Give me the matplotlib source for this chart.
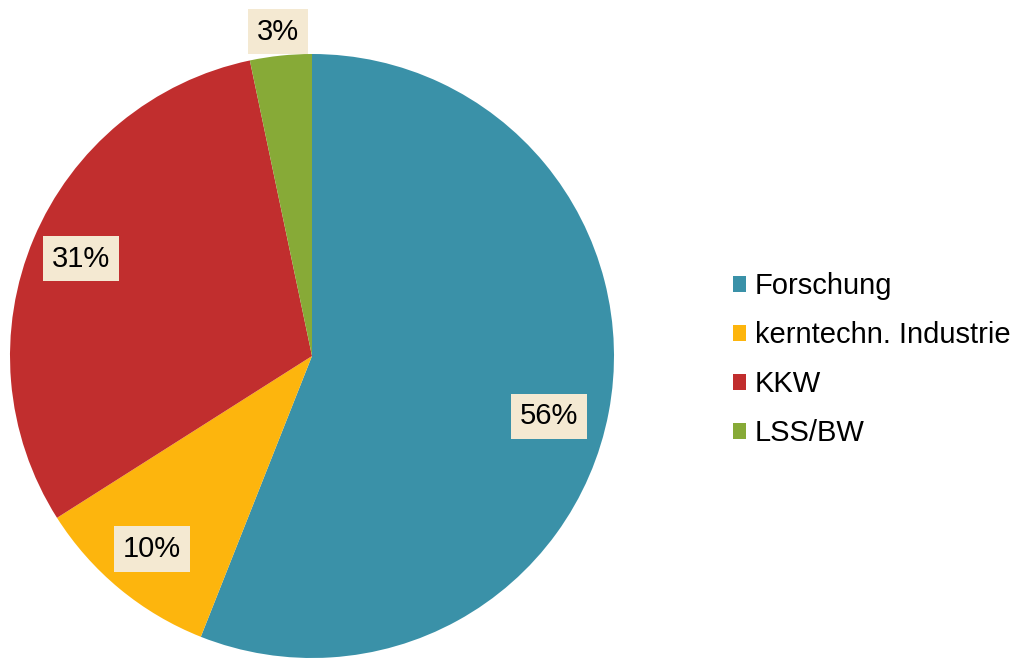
import numpy as np
import matplotlib
matplotlib.use("Agg")
import matplotlib.pyplot as plt
from matplotlib.patches import Patch

plt.rcParams['font.family'] = ['Liberation Sans', 'DejaVu Sans']

categories = ["Forschung", "kerntechn. Industrie", "KKW", "LSS/BW"]
shares = [56.0, 10.0, 30.7, 3.3]
pct_labels = ["56%", "10%", "31%", "3%"]
colors = ["#3a91a8", "#fdb50d", "#c12e2e", "#87aa37"]
label_dist = [0.81, 0.83, 0.83, 1.08]

W, H = 1018, 659
fig = plt.figure(figsize=(W / 100, H / 100), dpi=100)
cx, cy, r = 312, 356, 302
ax = fig.add_axes([(cx - r) / W, (H - cy - r) / H, 2 * r / W, 2 * r / H])

wedges, _ = ax.pie(shares, colors=colors, startangle=90, counterclock=False,
                   radius=1.0, wedgeprops=dict(linewidth=0))
ax.set_xlim(-1, 1)
ax.set_ylim(-1, 1)
ax.set_aspect("equal")
ax.axis("off")

box = dict(boxstyle="square,pad=0.3", facecolor="#f4e9d2",
           edgecolor="none")
for i, (w, lab, d) in enumerate(zip(wedges, pct_labels, label_dist)):
    mid = (w.theta1 + w.theta2) / 2
    if i == 0:
        mid -= 3.5  # Excel pushes this one a bit lower
    mid = np.deg2rad(mid)
    ax.text(d * np.cos(mid), d * np.sin(mid), lab, ha="center", va="center",
            fontsize=21, color="black", bbox=box, clip_on=False)

handles = [Patch(facecolor=c, edgecolor="none") for c in colors]
fig.legend(handles, categories, loc="center left",
           bbox_to_anchor=(733 / W, 1 - 360 / H), frameon=False,
           borderpad=0, borderaxespad=0,
           fontsize=21, handlelength=0.45, handleheight=0.45,
           handletextpad=0.3, labelspacing=0.72)

fig.savefig("out.png", dpi=100)
